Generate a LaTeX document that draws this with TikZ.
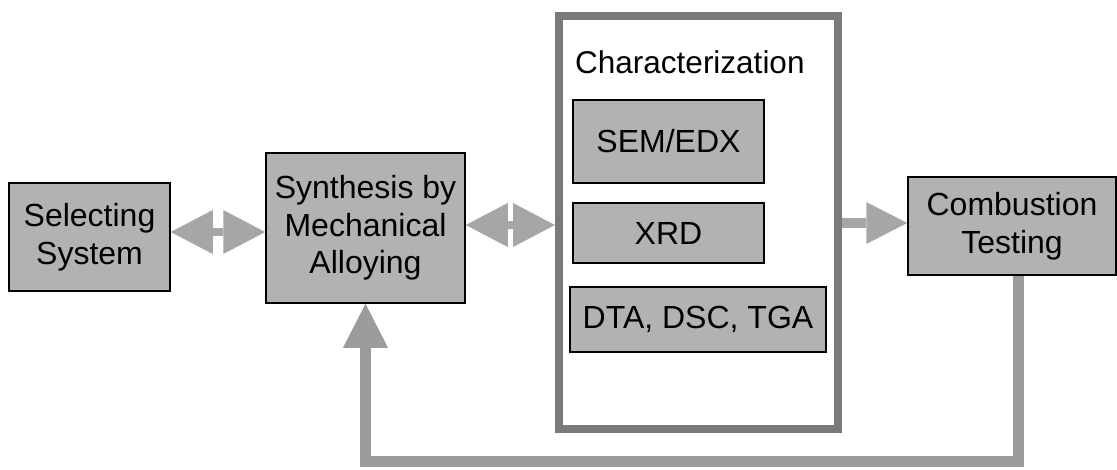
\documentclass[tikz,border=0pt]{standalone}
\usepackage{fontspec}
\setmainfont{Liberation Sans}
\usetikzlibrary{arrows.meta}
\definecolor{boxgray}{HTML}{B2B2B2}
\definecolor{arrgray}{HTML}{A6A6A6}
\definecolor{framegray}{HTML}{7A7A7A}
\definecolor{fbgray}{HTML}{9C9C9C}
\begin{document}
\begin{tikzpicture}[x=1pt,y=-1pt,
  box/.style={draw=black, line width=1.5pt, fill=boxgray, inner sep=0pt, align=center,
    font=\fontsize{32}{37.5}\selectfont},
  frame/.style={draw=framegray, line width=8pt, fill=white, inner sep=0pt},
  lbl/.style={inner sep=0pt, font=\fontsize{31.5}{37}\selectfont},
  tipA/.tip={Triangle[length=42pt,width=44pt,line width=0pt]},
  dblarrow/.style={draw=arrgray, fill=arrgray, line width=8pt, tipA-tipA},
  onearrow/.style={draw=arrgray, fill=arrgray, line width=10pt, -{Triangle[length=41pt,width=42pt,line width=0pt]}},
  fbarrow/.style={draw=fbgray, line width=11pt, line join=miter, -{Triangle[length=44pt,width=45pt,line width=0pt]}}
]
\useasboundingbox (0,0) rectangle (1117,469);

\node[box, minimum width=161pt, minimum height=108pt] (sel) at (89.5,237) {Selecting\\System};
\node[box, minimum width=199pt, minimum height=150pt] (syn) at (365.5,228) {Synthesis by\\Mechanical\\Alloying};
\node[frame, minimum width=279pt, minimum height=413pt] (char) at (698.5,222.5) {};
\node[lbl, anchor=base west] (chart) at (575,73) {Characterization};
\node[box, minimum width=191pt, minimum height=83pt] (sem) at (668.5,141.5) {SEM/EDX};
\node[box, minimum width=191pt, minimum height=60pt] (xrd) at (668.5,233) {XRD};
\node[box, minimum width=256pt, minimum height=65pt] (dta) at (698,319.5) {DTA, DSC, TGA};
\node[box, minimum width=208pt, minimum height=98pt] (comb) at (1012,226) {Combustion\\Testing};

\draw[dblarrow] (sel.east |- 0,232) -- (syn.west |- 0,232);
\draw[dblarrow] (syn.east |- 0,225) -- (char.west |- 0,225);
\draw[onearrow] (char.east |- 0,223) -- (comb.west |- 0,223);
\draw[fbarrow] ([xshift=6pt]comb.south) |- (syn.south |- 0,461) -- (syn.south);
\end{tikzpicture}
\end{document}
